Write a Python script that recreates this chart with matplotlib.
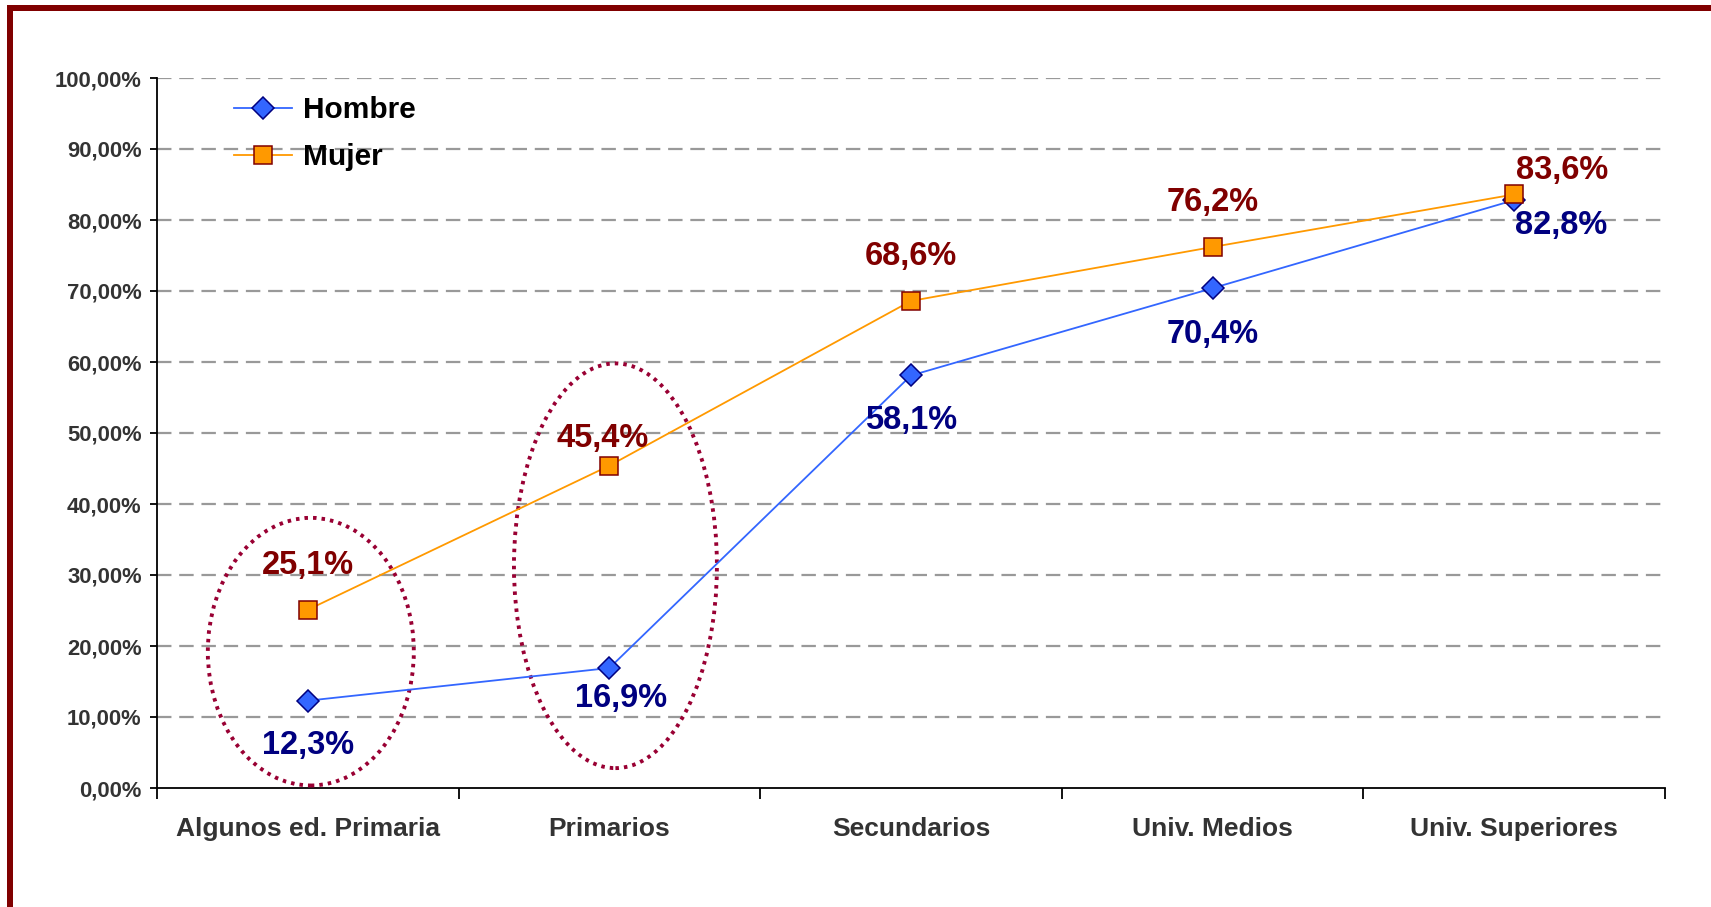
import matplotlib.pyplot as plt
from matplotlib.patches import Ellipse, Rectangle
from matplotlib.lines import Line2D

plt.rcParams['font.family'] = ['Liberation Sans', 'DejaVu Sans']
plt.rcParams['font.weight'] = 'bold'

# datos
categorias = ['Algunos ed. Primaria', 'Primarios', 'Secundarios', 'Univ. Medios', 'Univ. Superiores']
hombre = [12.3, 16.9, 58.1, 70.4, 82.8]
mujer = [25.1, 45.4, 68.6, 76.2, 83.6]
etiq_hombre = ['12,3%', '16,9%', '58,1%', '70,4%', '82,8%']
etiq_mujer = ['25,1%', '45,4%', '68,6%', '76,2%', '83,6%']
y_ticks = [0, 10, 20, 30, 40, 50, 60, 70, 80, 90, 100]

W, H = 1711, 907
fig = plt.figure(figsize=(W / 100, H / 100), dpi=100)
ax = fig.add_axes([157 / W, 1 - 788 / H, 1508 / W, 710 / H])

x = list(range(len(categorias)))

# rejilla discontinua
for v in y_ticks[1:]:
    ax.axhline(v, color='#999999', lw=1.6, ls=(0, (6.5, 3.5)), zorder=1)

ax.plot(x, hombre, color='#3366FF', lw=1.3, marker='D', ms=11,
        mfc='#3366FF', mec='#000080', mew=1.1, zorder=4, label='Hombre')
ax.plot(x, mujer, color='#FF9900', lw=1.3, marker='s', ms=13,
        mfc='#FF9900', mec='#800000', mew=1.1, zorder=5, label='Mujer')

# etiquetas de datos (desplazamiento en pixeles)
off_m = [(0, 44), (-7, 27), (0, 44), (0, 44), (48, 24)]
off_h = [(0, -45), (12, -30), (0, -45), (0, -46), (47, -25)]
for i in x:
    ax.annotate(etiq_mujer[i], (i, mujer[i]), xytext=off_m[i], textcoords='offset pixels',
                ha='center', va='center', fontsize=23.5, color='#800000', fontweight='bold', zorder=6)
    ax.annotate(etiq_hombre[i], (i, hombre[i]), xytext=off_h[i], textcoords='offset pixels',
                ha='center', va='center', fontsize=23.5, color='#000080', fontweight='bold', zorder=6)

# elipses punteadas
for cx, cy, w, h in [(0.01, 19.2, 0.683, 37.7), (1.02, 31.3, 0.673, 57.0)]:
    ax.add_patch(Ellipse((cx, cy), w, h, fill=False, ec='#990033', lw=2.8,
                         ls=(0, (0.9, 1.3)), zorder=3))

ax.set_xlim(-0.5, 4.5)
ax.set_ylim(0, 100)
ax.set_yticks(y_ticks)
ax.set_yticklabels([f'{v},00%' for v in y_ticks], fontsize=15.8, color='#333333', fontweight='bold')
ax.tick_params(axis='y', length=5, width=1.3, pad=6)

ax.set_xticks([i - 0.5 for i in range(len(categorias) + 1)])
ax.set_xticklabels([])
ax.tick_params(axis='x', length=8, width=1.3)
ax.set_xticks(x, minor=True)
ax.set_xticklabels(categorias, minor=True, fontsize=19, color='#333333', fontweight='bold')
ax.tick_params(axis='x', which='minor', length=0, pad=21)

for s in ['top', 'right']:
    ax.spines[s].set_visible(False)
ax.spines['left'].set_linewidth(1.3)
ax.spines['bottom'].set_linewidth(1.3)

handles = [
    Line2D([], [], color='#3366FF', lw=1.3, marker='D', ms=11, mfc='#3366FF', mec='#000080', mew=1.1),
    Line2D([], [], color='#FF9900', lw=1.3, marker='s', ms=13, mfc='#FF9900', mec='#800000', mew=1.1),
]
ax.legend(handles, ['Hombre', 'Mujer'], loc='upper left', bbox_to_anchor=(0.051, 0.974),
          frameon=False, prop={'size': 21.5, 'weight': 'bold'}, handlelength=1.95,
          handletextpad=0.35, labelspacing=0.62, borderpad=0, borderaxespad=0)

# marco rojo oscuro (arriba e izquierda)
fig.add_artist(Rectangle((7 / W, 1 - 11 / H), 1 - 7 / W, 6 / H, transform=fig.transFigure,
                         color='#800000', lw=0))
fig.add_artist(Rectangle((7 / W, 0), 6 / W, 1 - 5 / H, transform=fig.transFigure,
                         color='#800000', lw=0))

fig.savefig('out.png', dpi=100)
